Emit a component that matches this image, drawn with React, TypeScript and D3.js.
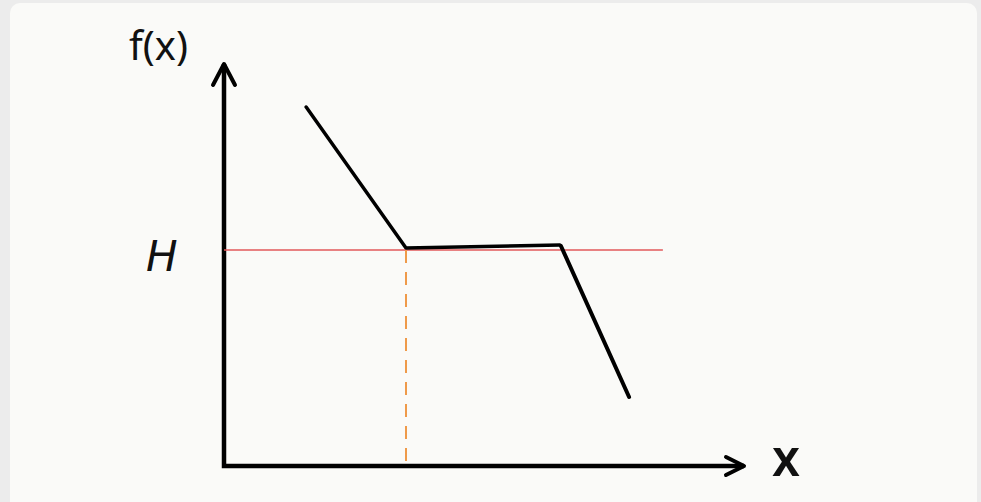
import React from "react";
import * as d3 from "d3";

// curve in data units (x: 0..10, y: 0..8)
const curveLeft = [
  { x: 1.58, y: 7.18 },
  { x: 3.5, y: 4.36 },
  { x: 6.46, y: 4.42 },
];
const curveRight = [
  { x: 6.48, y: 4.4 },
  { x: 7.79, y: 1.38 },
];
const hValue = 4.32;
const hLineEnd = 8.44;
const crossX = 3.5;
const xMax = 10;
const yMax = 8;
const labels = { y: "f(x)", x: "x", h: "H" };

const W = 981;
const H = 502;

export default function App() {
  const x = d3.scaleLinear().domain([0, xMax]).range([224, 744]);
  const y = d3.scaleLinear().domain([0, yMax]).range([466, 66]);

  const lineGen = d3
    .line<{ x: number; y: number }>()
    .x((d) => x(d.x))
    .y((d) => y(d.y));

  const x0 = x(0);
  const y0 = y(0);
  const yTop = y(yMax) - 2;
  const xEnd = x(xMax);

  return (
    <svg
      width={W}
      height={H}
      style={{ position: "absolute", left: 0, top: 0 }}
    >
      <rect x={0} y={0} width={W} height={H} fill="#ececec" />
      <rect x={10} y={3} width={967} height={H + 20} rx={10} fill="#fafaf8" />

      {/* axes */}
      <g stroke="#000" strokeWidth={4.5} fill="none" strokeLinejoin="miter">
        <path d={`M${x0},${yTop} L${x0},${y0} L${xEnd},${y0}`} />
      </g>
      <g stroke="#000" strokeWidth={4} fill="none" strokeLinecap="round" strokeLinejoin="round">
        <path d={`M${x0 - 11},${yTop + 21} L${x0},${yTop} L${x0 + 11},${yTop + 21}`} />
        <path d={`M${xEnd - 18},${y0 - 9} L${xEnd},${y0} L${xEnd - 18},${y0 + 9}`} />
      </g>

      {/* H level */}
      <line
        x1={x0}
        x2={x(hLineEnd)}
        y1={y(hValue)}
        y2={y(hValue)}
        stroke="#e2585b"
        strokeWidth={1.6}
      />
      <line
        x1={x(crossX)}
        x2={x(crossX)}
        y1={y(hValue)}
        y2={y0 - 2}
        stroke="#ef9a4a"
        strokeWidth={2}
        strokeDasharray="13 9"
      />

      {/* function */}
      <path d={lineGen(curveLeft) ?? ""} fill="none" stroke="#000" strokeWidth={3.5} strokeLinecap="round" strokeLinejoin="round" />
      <path d={lineGen(curveRight) ?? ""} fill="none" stroke="#000" strokeWidth={4} strokeLinecap="round" />

      {/* labels */}
      <text x={129} y={60} fontFamily="Noto Sans" fontSize={40} fill="#111">
        {labels.y}
      </text>
      <text
        x={146}
        y={271}
        fontFamily="DejaVu Sans"
        fontStyle="italic"
        fontSize={42}
        fill="#111"
      >
        {labels.h}
      </text>
      <text x={772} y={476} fontFamily="Noto Sans" fontWeight={600} fontSize={50} fill="#111">
        {labels.x}
      </text>
    </svg>
  );
}
